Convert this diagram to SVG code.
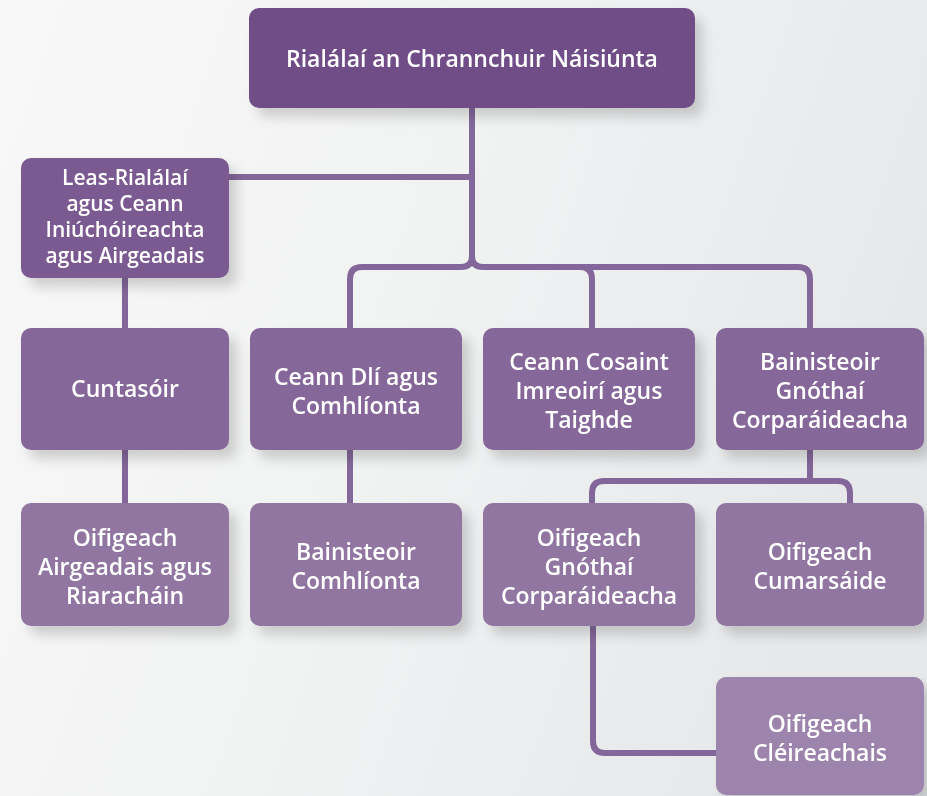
<svg xmlns="http://www.w3.org/2000/svg" width="927" height="796" viewBox="0 0 927 796">
<defs>
<linearGradient id="bg" x1="0" y1="0" x2="1" y2="0.3">
<stop offset="0" stop-color="#f8f8f8"/>
<stop offset="0.5" stop-color="#f1f2f2"/>
<stop offset="1" stop-color="#e7e8e9"/>
</linearGradient>
<filter id="sh" x="-10%" y="-10%" width="130%" height="140%">
<feDropShadow dx="8" dy="9" stdDeviation="6" flood-color="#000" flood-opacity="0.16"/>
</filter>
</defs>
<style>
.t{font-family:"Open Sans","Noto Sans","Liberation Sans",sans-serif;font-weight:600;fill:#ffffff;text-anchor:middle;font-size:23px}
.s{font-size:21px}
.c{fill:none;stroke:#84679a;stroke-width:6;stroke-linecap:butt}
.b{filter:url(#sh)}
</style>
<rect width="927" height="796" fill="url(#bg)"/>
<g id="connectors">
<path class="c" d="M472,108 V256 Q472,267 461,267 H362 Q350,267 350,279 V330"/>
<path class="c" d="M472,256 Q472,267 483,267 H580 Q592,267 592,279 V330"/>
<path class="c" d="M575,267 H798 Q810,267 810,279 V330"/>
<path class="c" d="M229,177 H472"/>
<path class="c" d="M125,276 V330"/>
<path class="c" d="M125,448 V505"/>
<path class="c" d="M350,448 V505"/>
<path class="c" d="M810,448 V481"/>
<path class="c" d="M592,505 V493 Q592,481 604,481 H838 Q850,481 850,493 V505"/>
<path class="c" d="M593,624 V741 Q593,753 605,753 H718"/>
</g>
<g id="n-top" class="b"><rect x="249" y="8" width="446" height="100" rx="10" fill="#6f4e87"/><text class="t" x="472" y="67">Rialálaí an Chrannchuir Náisiúnta</text></g>
<g id="n-leas" class="b"><rect x="21" y="158" width="208" height="120" rx="10" fill="#7a5a91"/><text class="t s" x="125"><tspan x="125" y="185">Leas-Rialálaí</tspan><tspan x="125" y="211">agus Ceann</tspan><tspan x="125" y="237">Iniúchóireachta</tspan><tspan x="125" y="263">agus Airgeadais</tspan></text></g>
<g id="n-cuntasoir" class="b"><rect x="21" y="328" width="208" height="122" rx="10" fill="#856799"/><text class="t" x="125" y="397">Cuntasóir</text></g>
<g id="n-dli" class="b"><rect x="250" y="328" width="212" height="122" rx="10" fill="#856799"/><text class="t"><tspan x="356" y="385">Ceann Dlí agus</tspan><tspan x="356" y="414">Comhlíonta</tspan></text></g>
<g id="n-cosaint" class="b"><rect x="483" y="328" width="212" height="122" rx="10" fill="#856799"/><text class="t"><tspan x="589" y="370">Ceann Cosaint</tspan><tspan x="589" y="399">Imreoirí agus</tspan><tspan x="589" y="428">Taighde</tspan></text></g>
<g id="n-bainisteoir" class="b"><rect x="716" y="328" width="208" height="122" rx="10" fill="#856799"/><text class="t"><tspan x="820" y="370">Bainisteoir</tspan><tspan x="820" y="399">Gnóthaí</tspan><tspan x="820" y="428">Corparáideacha</tspan></text></g>
<g id="n-airgeadais" class="b"><rect x="21" y="503" width="208" height="123" rx="10" fill="#9076a1"/><text class="t"><tspan x="125" y="546">Oifigeach</tspan><tspan x="125" y="575">Airgeadais agus</tspan><tspan x="125" y="604">Riaracháin</tspan></text></g>
<g id="n-comhlionta" class="b"><rect x="250" y="503" width="212" height="123" rx="10" fill="#9076a1"/><text class="t"><tspan x="356" y="560">Bainisteoir</tspan><tspan x="356" y="589">Comhlíonta</tspan></text></g>
<g id="n-gnothai" class="b"><rect x="483" y="503" width="212" height="123" rx="10" fill="#9076a1"/><text class="t"><tspan x="589" y="546">Oifigeach</tspan><tspan x="589" y="575">Gnóthaí</tspan><tspan x="589" y="604">Corparáideacha</tspan></text></g>
<g id="n-cumarsaide" class="b"><rect x="716" y="503" width="208" height="123" rx="10" fill="#9076a1"/><text class="t"><tspan x="820" y="560">Oifigeach</tspan><tspan x="820" y="589">Cumarsáide</tspan></text></g>
<g id="n-cleireachais" class="b"><rect x="716" y="677" width="208" height="118" rx="10" fill="#9c84ac"/><text class="t"><tspan x="820" y="732">Oifigeach</tspan><tspan x="820" y="761">Cléireachais</tspan></text></g>
</svg>
